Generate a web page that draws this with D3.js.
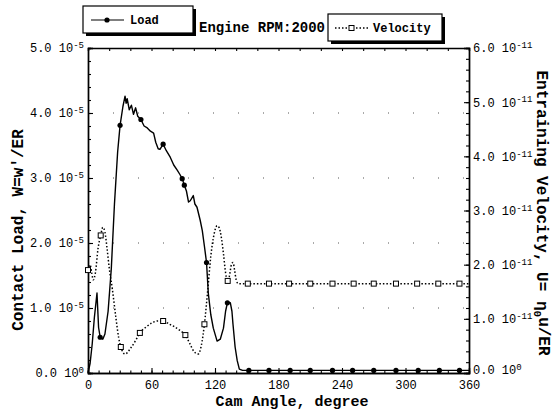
<!DOCTYPE html>
<html>
<head>
<meta charset="utf-8">
<script src="https://cdn.jsdelivr.net/npm/d3@7"></script>
<style>
  body { margin: 0; background: #fff; }
  text { font-family: 'Liberation Mono', 'DejaVu Sans Mono', monospace; fill: #000; }
</style>
</head>
<body>
<div id="chart"></div>
<script>
// DATA
var loadAngle = [0, 2, 4, 6, 8.5, 10, 11.5, 14, 16, 19, 22, 25, 28, 30.3, 33, 35, 36, 37, 39, 41, 43, 45, 47, 50,
  53, 56, 59, 62, 64, 66.3, 68, 71, 74, 77.7, 81, 84.3, 87, 89, 91, 93, 95, 96.6, 99.5, 101, 103, 106, 108, 110,
  112, 113.7, 116, 118.4, 122, 125, 128, 130, 131.7, 134.5, 136, 137, 139, 141, 143, 146, 360]
var loadValue = [0, 0.15, 0.45, 0.85, 1.23, 0.7, 0.55, 0.52, 0.6, 0.95, 1.6, 2.6, 3.4, 3.81, 4.1, 4.26, 4.15, 4.22, 4.05, 4.12, 3.98, 4.08, 3.95, 3.9,
  3.8, 3.77, 3.72, 3.69, 3.55, 3.45, 3.44, 3.52, 3.42, 3.32, 3.2, 3.12, 3.05, 2.99, 2.89, 2.8, 2.63, 2.65, 2.73, 2.6, 2.55, 2.35, 2.19, 1.95,
  1.7, 1.22, 0.9, 0.69, 0.49, 0.52, 0.69, 0.95, 1.08, 1.08, 0.95, 0.75, 0.4, 0.19, 0.06, 0.04, 0.04]
var loadMarkAngle = [11.5, 30.3, 50, 71, 89, 91, 112, 131.7, 152, 171, 191, 210, 231, 250, 270, 291, 312, 332, 351]
var loadMarkValue = [0.55, 3.81, 3.9, 3.52, 2.99, 2.89, 1.7, 1.08, 0.04, 0.04, 0.04, 0.04, 0.04, 0.04, 0.04, 0.04, 0.04, 0.04, 0.04]

var velAngle = [0, 2, 3.5, 5, 7, 9.5, 12, 14, 16, 18, 20, 23, 26.5, 29, 31, 35, 40, 45, 49, 55, 60, 66, 71, 77, 82, 88, 92,
  96, 100, 104, 107, 110, 113, 116, 119, 122, 124, 126, 128, 130, 132, 133.5, 135.5, 137, 138.5, 140, 142, 360]
var velValue = [1.9, 2.0, 1.85, 1.72, 1.85, 2.3, 2.54, 2.69, 2.6, 2.3, 1.95, 1.55, 1.0, 0.65, 0.48, 0.35, 0.45, 0.6, 0.74, 0.85, 0.92, 0.96, 0.96, 0.9, 0.85, 0.77, 0.7,
  0.55, 0.4, 0.35, 0.5, 0.9, 1.5, 2.15, 2.55, 2.72, 2.68, 2.5, 2.2, 1.85, 1.7, 1.78, 2.0, 2.04, 1.9, 1.72, 1.65, 1.65]
var velMarkAngle = [0, 12, 31, 49, 71, 92, 110, 132, 151, 171, 190, 210, 231, 251, 270, 291, 311, 331, 351]
var velMarkValue = [1.9, 2.54, 0.48, 0.74, 0.96, 0.7, 0.9, 1.7, 1.65, 1.65, 1.65, 1.65, 1.65, 1.65, 1.65, 1.65, 1.65, 1.65, 1.65]

var xTicks = [0, 60, 120, 180, 240, 300, 360]
var loadTicks = [0, 1, 2, 3, 4, 5]
var loadExp = ['0', '-5', '-5', '-5', '-5', '-5']
var velTicks = [0, 1, 2, 3, 4, 5, 6]
var velExp = ['0', '-11', '-11', '-11', '-11', '-11', '-11']

// GLOBAL
var width = 556
var height = 410
var margin = {top: 48, left: 88, bottom: 37, right: 87}

var svg = d3.select('#chart').append('svg')
  .attr('width', width)
  .attr('height', height)

var xMap = d3.scaleLinear().domain([0, 360]).range([margin.left, width - margin.right])
var yLoad = d3.scaleLinear().domain([0, 5]).range([height - margin.bottom, margin.top])
var yVel = d3.scaleLinear().domain([0, 6]).range([height - margin.bottom, margin.top])

// HELPERS
function styleAxis(g) {
  g.selectAll('.domain').attr('stroke', '#000').attr('stroke-width', 1.4)
  g.selectAll('.tick line').attr('stroke', '#000').attr('stroke-width', 1.1)
}

function expLabels(g, ticks, exps) {
  g.selectAll('.tick text').each(function(d) {
    var i = ticks.indexOf(d)
    var t = d3.select(this).text(null)
      .style('font-size', '12px')
    t.append('tspan').text(d.toFixed(1) + ' 10')
    t.append('tspan').attr('dy', '-0.45em').style('font-size', '9px').text(exps[i])
  })
}

// faint dotted grid (scan look)
svg.append('g').selectAll('line')
  .data(loadTicks.slice(1, 5))
  .enter().append('line')
  .attr('x1', xMap(0)).attr('x2', xMap(360))
  .attr('y1', d => yLoad(d)).attr('y2', d => yLoad(d))
  .attr('stroke', '#555').attr('stroke-width', 1)
  .attr('stroke-dasharray', '1 24')

// AXES
var gBottom = svg.append('g')
  .attr('transform', 'translate(0,' + yLoad(0) + ')')
  .call(d3.axisBottom(xMap).tickValues(xTicks).tickSize(-5).tickPadding(7).tickFormat(d3.format('d')))
gBottom.selectAll('.tick text').style('font-size', '12px')
styleAxis(gBottom)
svg.append('g')
  .attr('transform', 'translate(0,' + yLoad(0) + ')')
  .call(d3.axisBottom(xMap).tickValues(d3.range(0, 361, 10)).tickSize(-2.5).tickFormat(''))
  .call(styleAxis)

var gTop = svg.append('g')
  .attr('transform', 'translate(0,' + margin.top + ')')
  .call(d3.axisTop(xMap).tickValues(d3.range(0, 361, 20)).tickSize(-3).tickFormat(''))
styleAxis(gTop)

var gLeft = svg.append('g')
  .attr('transform', 'translate(' + margin.left + ',0)')
  .call(d3.axisLeft(yLoad).tickValues(loadTicks).tickSize(-5).tickPadding(4))
expLabels(gLeft, loadTicks, loadExp)
styleAxis(gLeft)
svg.append('g')
  .attr('transform', 'translate(' + margin.left + ',0)')
  .call(d3.axisLeft(yLoad).tickValues(d3.range(0, 5.01, 0.2)).tickSize(-3).tickFormat(''))
  .call(styleAxis)

var gRight = svg.append('g')
  .attr('transform', 'translate(' + (width - margin.right) + ',0)')
  .call(d3.axisRight(yVel).tickValues(velTicks).tickSize(-5).tickPadding(4))
expLabels(gRight, velTicks, velExp)
styleAxis(gRight)
// keep the zero label clear of the "360" tick label below it
gRight.selectAll('.tick text').filter(d => d === 0).attr('dy', '0.05em')
svg.append('g')
  .attr('transform', 'translate(' + (width - margin.right) + ',0)')
  .call(d3.axisRight(yVel).tickValues(d3.range(0, 6.01, 0.2)).tickSize(-3).tickFormat(''))
  .call(styleAxis)

// SERIES
var loadLine = d3.line()
  .x((d, i) => xMap(loadAngle[i]))
  .y(d => yLoad(d))
svg.append('path')
  .datum(loadValue)
  .attr('d', loadLine)
  .attr('fill', 'none')
  .attr('stroke', '#000')
  .attr('stroke-width', 1.4)
  .attr('stroke-linejoin', 'round')

svg.append('g').selectAll('circle')
  .data(loadMarkValue)
  .enter().append('circle')
  .attr('cx', (d, i) => xMap(loadMarkAngle[i]))
  .attr('cy', d => yLoad(d))
  .attr('r', 2.6)
  .attr('fill', '#000')

var velLine = d3.line()
  .curve(d3.curveMonotoneX)
  .x((d, i) => xMap(velAngle[i]))
  .y(d => yVel(d))
svg.append('path')
  .datum(velValue)
  .attr('d', velLine)
  .attr('fill', 'none')
  .attr('stroke', '#000')
  .attr('stroke-width', 1.5)
  .attr('stroke-dasharray', '1.5 2')

svg.append('g').selectAll('rect')
  .data(velMarkValue)
  .enter().append('rect')
  .attr('x', (d, i) => xMap(velMarkAngle[i]) - 2.5)
  .attr('y', d => yVel(d) - 2.5)
  .attr('width', 5)
  .attr('height', 5)
  .attr('fill', '#fff')
  .attr('stroke', '#000')
  .attr('stroke-width', 1)

// TITLES
svg.append('text')
  .attr('x', 292).attr('y', 406)
  .attr('text-anchor', 'middle')
  .style('font-size', '15px').style('font-weight', 'bold')
  .text('Cam Angle, degree')

svg.append('text')
  .attr('transform', 'translate(23,230) rotate(-90)')
  .attr('text-anchor', 'middle')
  .style('font-size', '16px').style('font-weight', 'bold')
  .text("Contact Load, W=w'/ER")

var rt = svg.append('text')
  .attr('transform', 'translate(537,213) rotate(90)')
  .attr('text-anchor', 'middle')
  .style('font-size', '16px').style('font-weight', 'bold')
rt.append('tspan').text('Entraining Velocity, U= \u03b7')
rt.append('tspan').attr('dy', '0.3em').style('font-size', '11px').text('0')
rt.append('tspan').attr('dy', '-0.3em').text('u/ER')

// LEGEND
function legendBox(x, y, w, h) {
  svg.append('rect').attr('x', x + 3).attr('y', y + 3).attr('width', w).attr('height', h).attr('fill', '#000')
  svg.append('rect').attr('x', x).attr('y', y).attr('width', w).attr('height', h)
    .attr('fill', '#fff').attr('stroke', '#000').attr('stroke-width', 1.2)
}

legendBox(83, 6, 110, 27)
svg.append('line').attr('x1', 91).attr('x2', 124).attr('y1', 20).attr('y2', 20)
  .attr('stroke', '#000').attr('stroke-width', 1.2)
svg.append('circle').attr('cx', 107).attr('cy', 20).attr('r', 2.6).attr('fill', '#000')
svg.append('text').attr('x', 130).attr('y', 24)
  .style('font-size', '12px').style('font-weight', 'bold').text('Load')

svg.append('text').attr('x', 199).attr('y', 32)
  .style('font-size', '14px').style('font-weight', 'bold').text('Engine RPM:2000')

legendBox(328, 14, 114, 27)
svg.append('line').attr('x1', 335).attr('x2', 368).attr('y1', 28).attr('y2', 28)
  .attr('stroke', '#000').attr('stroke-width', 1.3).attr('stroke-dasharray', '1.5 2')
svg.append('rect').attr('x', 349).attr('y', 25.5).attr('width', 5).attr('height', 5)
  .attr('fill', '#fff').attr('stroke', '#000').attr('stroke-width', 1)
svg.append('text').attr('x', 373).attr('y', 32)
  .style('font-size', '12px').style('font-weight', 'bold').text('Velocity')
</script>
</body>
</html>
